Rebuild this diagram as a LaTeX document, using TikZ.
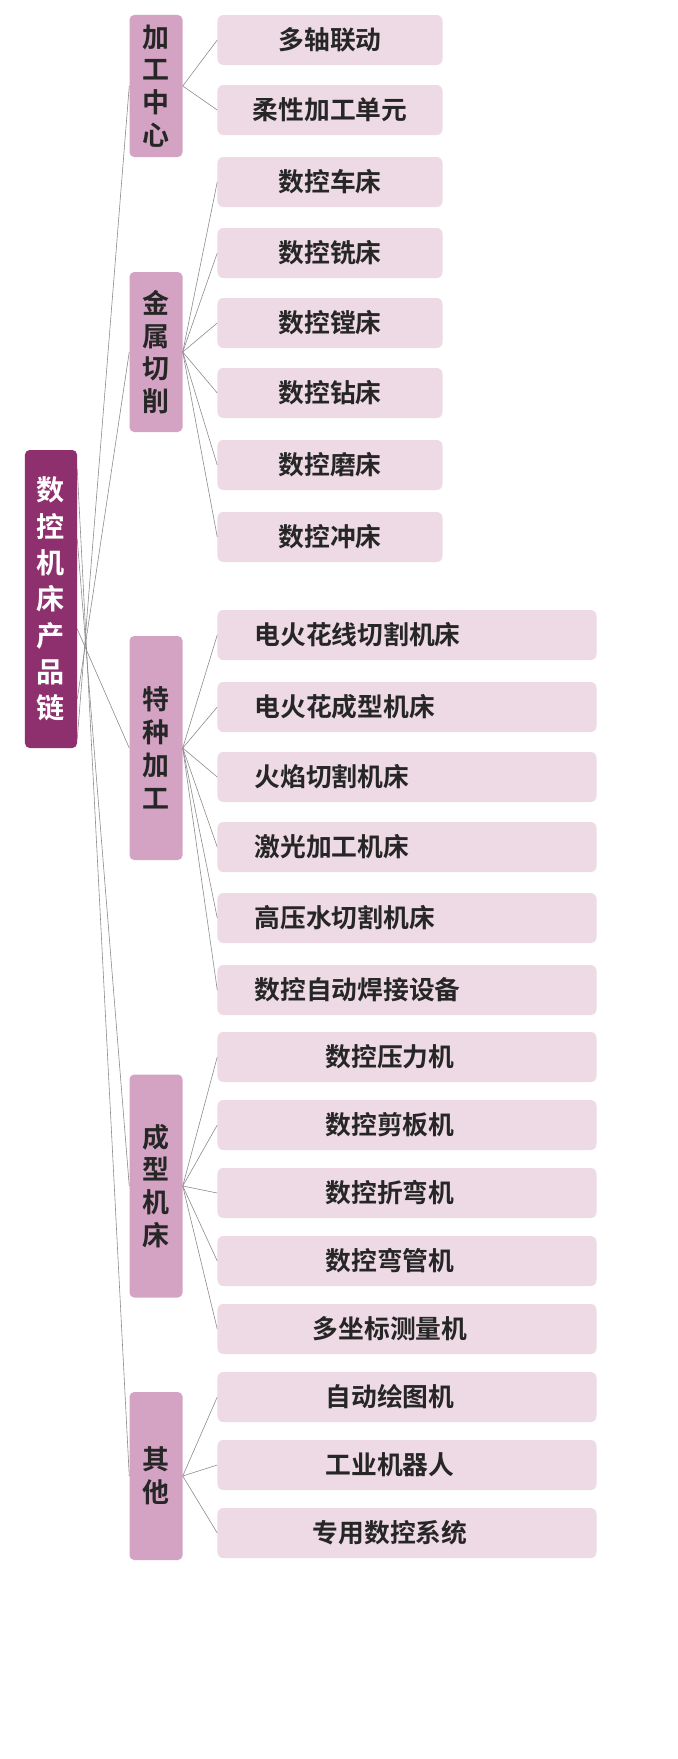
\documentclass[tikz,border=0pt]{standalone}
\usepackage{fontspec}
\setmainfont{Noto Sans CJK SC Bold}
\definecolor{rootc}{HTML}{8E2F6E}
\definecolor{catc}{HTML}{D4A3C3}
\definecolor{leafc}{HTML}{EEDAE4}
\definecolor{linec}{HTML}{8A8A8A}
\tikzset{
  rootbox/.style={fill=rootc,rounded corners=4pt,minimum width=1.56cm,text=white,align=center,inner sep=0pt,font=\fontsize{24}{31}\selectfont},
  catbox/.style={fill=catc,rounded corners=4pt,minimum width=1.59cm,text=black!85,align=center,inner sep=0pt,font=\fontsize{23}{28}\selectfont},
  leafbox/.style={fill=leafc,rounded corners=5pt,minimum height=1.5cm,inner sep=0pt,text=black!85,font=\fontsize{22}{22}\selectfont},
  link/.style={linec,line width=0.5pt}
}
\begin{document}
\begin{tikzpicture}[x=0.03cm,y=-0.03cm]
\fill[white] (0,0) rectangle (678,1759);
% root
\node[rootbox,minimum height=8.94cm] (root) at (51,599) {数\\控\\机\\床\\产\\品\\链};
% categories
\node[catbox,minimum height=4.26cm] (jg) at (156,86) {加\\工\\中\\心};
\node[catbox,minimum height=4.8cm] (js) at (156,352) {金\\属\\切\\削};
\node[catbox,minimum height=6.72cm] (tz) at (156,748) {特\\种\\加\\工};
\node[catbox,minimum height=6.69cm] (cx) at (156,1186) {成\\型\\机\\床};
\node[catbox,minimum height=5.04cm] (qt) at (156,1476) {其\\他};
\foreach \cat/\dy in {jg/-4.2,js/-3.0,tz/-0.9,cx/1.8,qt/3.9}
  \draw[link] ([yshift=\dy cm]root.east) -- (\cat.west);
% leaves, short
\foreach \nm/\y/\txt/\cat in {a1/40/多轴联动/jg,a2/110/柔性加工单元/jg,
  b1/182/数控车床/js,b2/253/数控铣床/js,b3/323/数控镗床/js,b4/393/数控钻床/js,b5/465/数控磨床/js,b6/537/数控冲床/js}{
  \node[leafbox,minimum width=6.75cm] (\nm) at (330,\y) {\txt};
  \draw[link] (\cat.east) -- (\nm.west);
}
% leaves, wide
\foreach \nm/\y/\txt in {c1/635/电火花线切割机床,c2/707/电火花成型机床,c3/777/火焰切割机床,c4/847/激光加工机床,c5/918/高压水切割机床,c6/990/数控自动焊接设备}{
  \node[leafbox,minimum width=11.37cm,text width=9.15cm] (\nm) at (407,\y) {\txt};
  \draw[link] (tz.east) -- (\nm.west);
}
\foreach \nm/\y/\txt/\cat in {d1/1057/数控压力机/cx,d2/1125/数控剪板机/cx,d3/1193/数控折弯机/cx,d4/1261/数控弯管机/cx,d5/1329/多坐标测量机/cx,
  e1/1397/自动绘图机/qt,e2/1465/工业机器人/qt,e3/1533/专用数控系统/qt}{
  \node[leafbox,minimum width=11.37cm] (\nm) at (407,\y) {};
  \node[font=\fontsize{22}{22}\selectfont,text=black!85] at (390,\y) {\txt};
  \draw[link] (\cat.east) -- (\nm.west);
}
\pgfresetboundingbox
\useasboundingbox (0,0) rectangle (678,1759);
\end{tikzpicture}
\end{document}
